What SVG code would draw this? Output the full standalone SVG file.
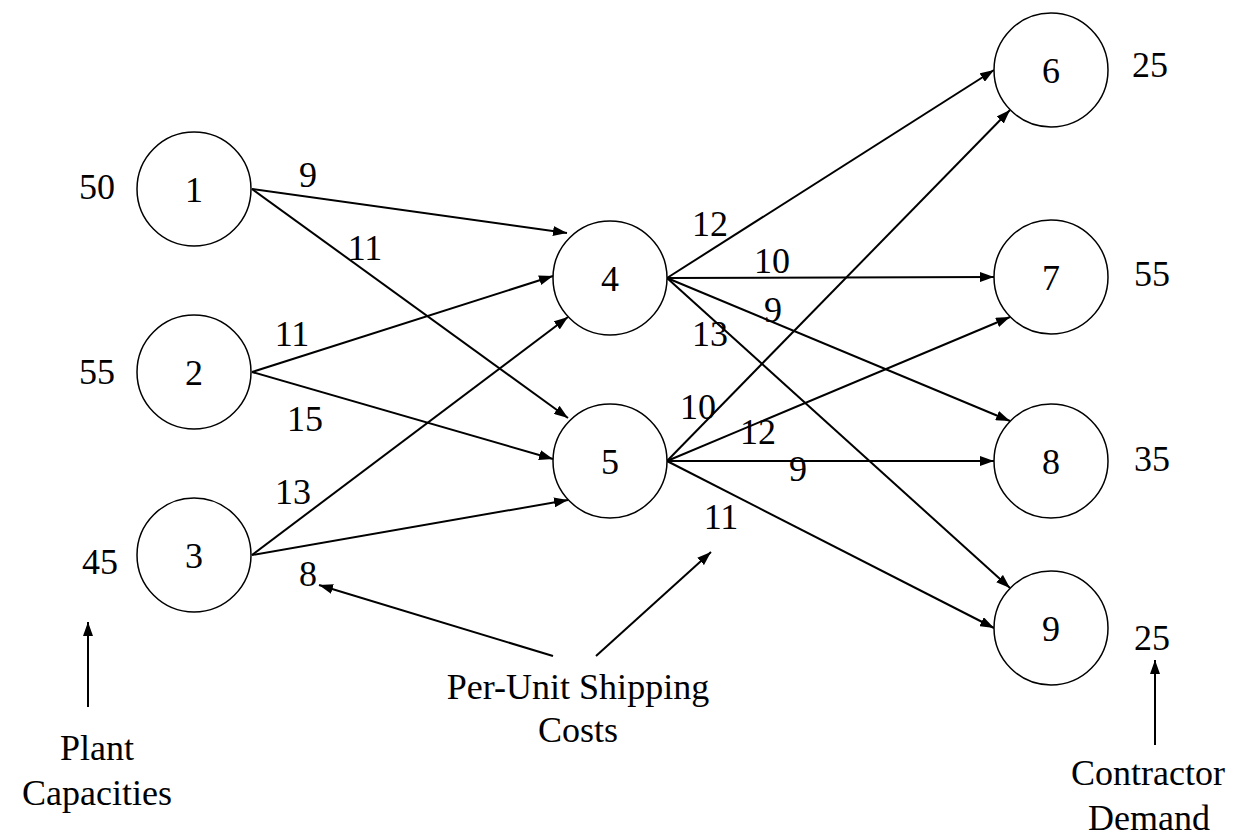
<svg xmlns="http://www.w3.org/2000/svg" width="1237" height="838" viewBox="0 0 1237 838">
<style>
  .n { fill: #fff; stroke: #000; stroke-width: 1.5; }
  text { font-family: "Liberation Serif", "Times New Roman", serif; font-size: 36px; fill: #000; text-anchor: middle; dominant-baseline: central; }
  .e { stroke: #000; stroke-width: 2; fill: none; marker-end: url(#ah); }
</style>
<defs>
  <marker id="ah" viewBox="0 0 14 10" refX="14" refY="5" markerWidth="14" markerHeight="10" markerUnits="userSpaceOnUse" orient="auto">
    <path d="M0,0 L14,5 L0,10 Z" fill="#000"/>
  </marker>
</defs>
<rect width="1237" height="838" fill="#fff"/>
<g id="connectors">
  <line class="e" x1="252" y1="189" x2="567" y2="233"/>
  <line class="e" x1="252" y1="189" x2="568" y2="418"/>
  <line class="e" x1="252" y1="372" x2="553" y2="276"/>
  <line class="e" x1="252" y1="372" x2="553" y2="459"/>
  <line class="e" x1="252" y1="555" x2="568" y2="317"/>
  <line class="e" x1="252" y1="555" x2="568" y2="500"/>
  <line class="e" x1="667" y1="278" x2="994" y2="70"/>
  <line class="e" x1="667" y1="278" x2="994" y2="277"/>
  <line class="e" x1="667" y1="278" x2="1010" y2="421"/>
  <line class="e" x1="667" y1="278" x2="1010" y2="588"/>
  <line class="e" x1="667" y1="461" x2="1010" y2="110"/>
  <line class="e" x1="667" y1="461" x2="1010" y2="317"/>
  <line class="e" x1="667" y1="461" x2="994" y2="461"/>
  <line class="e" x1="667" y1="461" x2="994" y2="628"/>
  <line class="e" x1="88" y1="707" x2="88" y2="622"/>
  <line class="e" x1="1155" y1="745" x2="1155" y2="660"/>
  <line class="e" x1="553" y1="656" x2="319" y2="585"/>
  <line class="e" x1="596" y1="656" x2="711" y2="552"/>
</g>
<g id="node1"><circle class="n" cx="194" cy="189" r="57"/><text x="194" y="190">1</text></g>
<g id="node2"><circle class="n" cx="194" cy="372" r="57"/><text x="194" y="373">2</text></g>
<g id="node3"><circle class="n" cx="194" cy="555" r="57"/><text x="194" y="556">3</text></g>
<g id="node4"><circle class="n" cx="610" cy="278" r="57"/><text x="610" y="279">4</text></g>
<g id="node5"><circle class="n" cx="610" cy="461" r="57"/><text x="610" y="462">5</text></g>
<g id="node6"><circle class="n" cx="1051" cy="70" r="57"/><text x="1051" y="71">6</text></g>
<g id="node7"><circle class="n" cx="1051" cy="277" r="57"/><text x="1051" y="278">7</text></g>
<g id="node8"><circle class="n" cx="1051" cy="461" r="57"/><text x="1051" y="462">8</text></g>
<g id="node9"><circle class="n" cx="1051" cy="628" r="57"/><text x="1051" y="629">9</text></g>
<g id="labels">
  <text x="308" y="175">9</text>
  <text x="365" y="248">11</text>
  <text x="292" y="334">11</text>
  <text x="305" y="419">15</text>
  <text x="293" y="492">13</text>
  <text x="308" y="574">8</text>
  <text x="710" y="224">12</text>
  <text x="772" y="261">10</text>
  <text x="773" y="310">9</text>
  <text x="710" y="334">13</text>
  <text x="698" y="407">10</text>
  <text x="758" y="432">12</text>
  <text x="798" y="469">9</text>
  <text x="721" y="517">11</text>
  <text x="97" y="187">50</text>
  <text x="97" y="372">55</text>
  <text x="100" y="562">45</text>
  <text x="1150" y="65">25</text>
  <text x="1152" y="274">55</text>
  <text x="1152" y="459">35</text>
  <text x="1152" y="638">25</text>
  <text x="97" y="748">Plant</text>
  <text x="97" y="793">Capacities</text>
  <text x="578" y="687">Per-Unit Shipping</text>
  <text x="578" y="730">Costs</text>
  <text x="1148" y="773">Contractor</text>
  <text x="1149" y="818">Demand</text>
</g>
</svg>
